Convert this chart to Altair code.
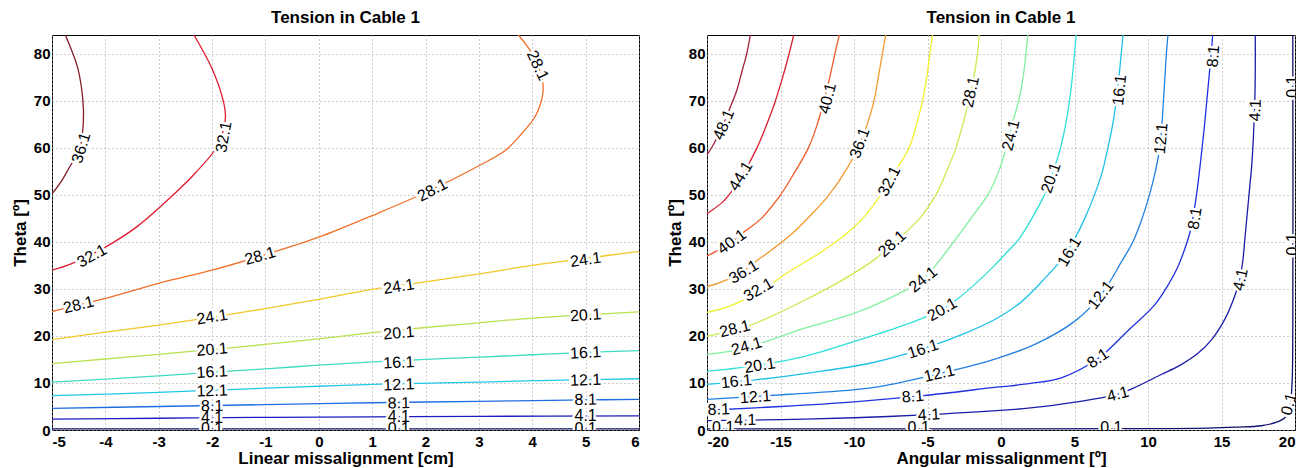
import altair as alt
import pandas as pd

# ---------------- Left panel: linear missalignment [cm] vs theta ----------------
lin_levels = ["0.1", "4.1", "8.1", "12.1", "16.1", "20.1", "24.1", "28.1", "32.1", "36.1"]
lin_c0_1 = [(-5, 0.25), (6, 0.25)]
lin_c4_1 = [(-5, 2.3), (-3, 2.5), (-1, 2.7), (1, 2.8), (3, 2.9), (6, 3.0)]
lin_c8_1 = [(-5, 4.6), (-3, 5.0), (-1, 5.4), (1, 5.8), (3, 6.1), (5, 6.4), (6, 6.5)]
lin_c12_1 = [(-5, 7.3), (-3, 8.0), (-1, 8.9), (0, 9.3), (1, 9.7), (3, 10.2), (5, 10.7), (6, 10.9)]
lin_c16_1 = [(-5, 10.2), (-4, 10.8), (-3, 11.5), (-2, 12.3), (-1, 13.0), (0, 13.8), (1, 14.5),
             (2, 15.0), (3, 15.5), (4, 16.0), (5, 16.5), (6, 16.9)]
lin_c20_1 = [(-5, 14.1), (-4, 15.1), (-3, 16.1), (-2, 17.1), (-1, 18.2), (0, 19.4), (1, 20.7),
             (2, 21.8), (3, 22.8), (4, 23.8), (5, 24.5), (6, 25.1)]
lin_c24_1 = [(-5, 19.2), (-4, 20.8), (-3, 22.3), (-2, 24.0), (-1, 25.8), (0, 27.8), (1, 29.9),
             (2, 31.5), (3, 33.2), (4, 35.0), (5, 36.5), (6, 38.0)]
lin_c28_1 = [(-5, 25.2), (-4, 28.0), (-3, 31.2), (-2, 34.0), (-1, 37.3), (0, 41.0), (1, 45.6),
             (2, 50.5), (3, 56.2), (3.5, 59.5), (3.8, 63.0), (4.07, 67.0), (4.2, 71.8),
             (4.18, 75.0), (4.0, 80.0), (3.74, 84.0)]
lin_c32_1 = [(-5, 34.0), (-4.63, 35.4), (-4.0, 38.9), (-3.4, 43.3), (-2.69, 50.4),
             (-2.31, 54.7), (-1.94, 59.7), (-1.78, 64.0), (-1.75, 67.0), (-1.8, 70.4),
             (-2.0, 76.8), (-2.34, 84.0)]
lin_c36_1 = [(-5, 50.2), (-4.82, 53.0), (-4.65, 56.3), (-4.5, 59.0), (-4.43, 63.0), (-4.41, 68.0),
             (-4.45, 73.0), (-4.53, 77.5), (-4.75, 84.0)]
lin_lines = [lin_c0_1, lin_c4_1, lin_c8_1, lin_c12_1, lin_c16_1, lin_c20_1, lin_c24_1,
             lin_c28_1, lin_c32_1, lin_c36_1]

lin_lab_text = ["36.1", "32.1", "28.1", "28.1", "32.1", "28.1", "28.1",
                "24.1", "24.1", "24.1", "20.1", "20.1", "20.1", "16.1", "16.1", "16.1",
                "12.1", "12.1", "12.1", "8.1", "8.1", "8.1", "4.1", "4.1", "4.1",
                "0.1", "0.1", "0.1"]
lin_lab_x = [-4.45, -1.78, 4.1, 2.13, -4.25, -4.5, -1.1,
             -2.0, 1.5, 5.0, -2.0, 1.5, 5.0, -2.0, 1.5, 5.0,
             -2.0, 1.5, 5.0, -2.0, 1.5, 5.0, -2.0, 1.5, 5.0,
             -2.0, 1.5, 5.0]
lin_lab_y = [60.0, 62.3, 77.5, 51.0, 37.0, 26.6, 37.0,
             24.0, 30.5, 36.2, 17.1, 20.6, 24.4, 12.3, 14.3, 16.4,
             8.3, 9.6, 10.6, 5.1, 5.7, 6.4, 2.6, 2.8, 3.0,
             0.3, 0.3, 0.3]
lin_lab_angle = [287, 280, 65, 332, 331, 346, 344,
                 351, 351, 352, 355, 355, 356, 357, 357, 357,
                 358, 358, 358, 359, 359, 359, 0, 0, 0,
                 0, 0, 0]

# ---------------- Right panel: angular missalignment [deg] vs theta ----------------
ang_levels = ["0.1", "4.1", "8.1", "12.1", "16.1", "20.1", "24.1", "28.1", "32.1", "36.1",
              "40.1", "44.1", "48.1"]
ang_c0_1 = [(-20, 0.25), (0, 0.25), (10, 0.3), (14, 0.4), (16, 0.6), (17.7, 0.9), (18.7, 1.6),
            (19.3, 2.6), (19.65, 5.0), (19.8, 10.0), (19.85, 20.0), (19.85, 84.0)]
ang_c4_1 = [(-20, 2.0), (-15, 2.2), (-10, 2.6), (-5.3, 3.2), (-0.3, 4.1), (2, 4.7), (4.1, 5.5),
            (6, 6.4), (7.9, 7.6), (9, 8.9), (10.9, 11.8), (12.2, 13.8), (13.4, 16.3), (14.4, 19.5),
            (15.3, 24.0), (15.9, 28.5), (16.2, 31.5), (16.45, 36.0), (16.6, 41.0), (16.75, 46.0),
            (16.9, 51.0), (17.05, 56.0), (17.15, 61.0), (17.22, 66.0), (17.28, 72.0),
            (17.3, 78.0), (17.3, 84.0)]
ang_c8_1 = [(-20, 4.2), (-15, 5.0), (-10, 6.0), (-5.3, 7.3), (-0.3, 9.1), (2, 9.9), (4.1, 11.1),
            (6.6, 15.2), (8.6, 21.0), (10.45, 26.6), (11.4, 31.0), (12.0, 34.5), (12.5, 38.5),
            (12.85, 42.0), (13.1, 46.0), (13.3, 50.0), (13.5, 55.0), (13.68, 60.0), (13.85, 65.0),
            (14.0, 70.0), (14.15, 75.0), (14.3, 80.0), (14.4, 84.0)]
ang_c12_1 = [(-20, 6.5), (-14.4, 7.6), (-8.75, 9.0), (-4.2, 12.0), (-0.3, 15.2), (2.3, 18.2),
             (5.0, 23.1), (6.8, 28.7), (8.2, 35.8), (9.0, 40.2), (9.6, 45.0), (10.1, 50.0),
             (10.5, 55.0), (10.8, 60.0), (10.95, 65.0), (11.05, 70.0), (11.15, 75.0),
             (11.25, 80.0), (11.36, 84.0)]
ang_c16_1 = [(-20, 9.7), (-16, 10.9), (-12.2, 12.5), (-8.75, 14.3), (-5.3, 17.3), (-2.5, 20.5),
             (-0.3, 23.7), (1.4, 27.3), (3.0, 32.3), (4.3, 37.0), (5.0, 40.6), (5.7, 45.0),
             (6.36, 50.0), (6.9, 55.0), (7.27, 60.0), (7.6, 65.0), (7.84, 70.0), (8.02, 75.0),
             (8.18, 80.0), (8.3, 84.0)]
ang_c20_1 = [(-20, 12.5), (-16.4, 13.8), (-13.3, 15.7), (-9.9, 18.9), (-6.5, 22.4), (-4.0, 25.6),
             (-2.9, 28.0), (-1.6, 31.5), (-0.5, 34.8), (0.4, 37.8), (1.2, 40.5), (2.1, 45.0),
             (2.95, 50.0), (3.55, 55.0), (4.05, 60.0), (4.4, 65.0), (4.66, 70.0), (4.85, 75.0),
             (5.0, 80.0), (5.11, 84.0)]
ang_c24_1 = [(-20, 16.1), (-18, 17.0), (-16, 18.8), (-13.3, 21.7), (-9.9, 24.9), (-7.6, 28.0),
             (-5.3, 32.0), (-4.2, 36.0), (-3.1, 40.5), (-2.0, 45.2), (-0.9, 50.0), (-0.15, 55.0),
             (0.34, 60.0), (0.75, 65.0), (1.2, 70.0), (1.5, 75.0), (1.7, 80.0), (1.82, 84.0)]
ang_c28_1 = [(-20, 19.9), (-17.5, 21.8), (-15.6, 24.2), (-13.3, 27.7), (-11.0, 31.5), (-8.5, 36.5),
             (-7.4, 39.6), (-6.5, 42.0), (-5.4, 45.5), (-4.43, 50.0), (-3.7, 55.0), (-3.07, 60.0),
             (-2.6, 65.0), (-2.2, 70.0), (-1.85, 75.0), (-1.6, 80.0), (-1.48, 84.0)]
ang_c32_1 = [(-20, 25.0), (-18.5, 26.3), (-17.3, 28.0), (-16.0, 30.3), (-14.4, 33.7), (-12.2, 37.9),
             (-10.6, 41.5), (-9.4, 45.0), (-8.4, 49.0), (-7.6, 52.9), (-7.0, 56.0), (-6.25, 60.0),
             (-5.75, 65.0), (-5.34, 70.0), (-5.05, 75.0), (-4.84, 80.0), (-4.66, 84.0)]
ang_c36_1 = [(-20, 30.5), (-19, 31.5), (-17.8, 33.2), (-16.7, 35.8), (-15.6, 38.3), (-14.3, 41.5),
             (-13.0, 45.5), (-11.7, 50.0), (-10.4, 56.0), (-9.6, 61.0), (-9.1, 65.0), (-8.64, 70.0),
             (-8.35, 75.0), (-8.07, 80.0), (-7.84, 84.0)]
ang_c40_1 = [(-20, 37.0), (-19.2, 38.3), (-18.3, 40.0), (-17.4, 42.3), (-16.3, 45.0), (-15.0, 50.0),
             (-14.0, 55.0), (-13.1, 60.0), (-12.5, 65.0), (-12.0, 70.5), (-11.65, 75.0),
             (-11.3, 80.0), (-11.0, 84.0)]
ang_c44_1 = [(-20, 46.0), (-19.0, 48.3), (-18.5, 50.0), (-17.7, 53.6), (-16.6, 60.0),
             (-16.0, 64.5), (-15.4, 69.5), (-14.9, 74.5), (-14.5, 79.0), (-14.1, 84.0)]
ang_c48_1 = [(-20, 58.5), (-19.6, 60.5), (-19.1, 63.5), (-18.5, 68.0), (-18.0, 72.0),
             (-17.6, 76.5), (-17.3, 80.0), (-17.05, 84.0)]
ang_lines = [ang_c0_1, ang_c4_1, ang_c8_1, ang_c12_1, ang_c16_1, ang_c20_1, ang_c24_1,
             ang_c28_1, ang_c32_1, ang_c36_1, ang_c40_1, ang_c44_1, ang_c48_1]

ang_lab_text = ["48.1", "44.1", "40.1", "40.1", "36.1", "36.1", "32.1", "32.1",
                "28.1", "28.1", "28.1", "24.1", "24.1", "24.1", "20.1", "20.1", "20.1",
                "16.1", "16.1", "16.1", "16.1", "12.1", "12.1", "12.1", "12.1",
                "8.1", "8.1", "8.1", "8.1", "8.1", "4.1", "4.1", "4.1", "4.1", "4.1",
                "0.1", "0.1", "0.1", "0.1", "0.1", "0.1"]
ang_lab_x = [-18.86, -17.7, -11.8, -18.3, -9.6, -17.5, -7.6, -16.5,
             -2.05, -7.4, -18.1, 0.68, -5.3, -17.3, 3.4, -4.0, -16.4,
             8.07, 4.66, -5.3, -18.0, 10.9, 6.8, -4.2, -16.7,
             14.45, 13.2, 6.6, -6.0, -19.2, 17.3, 16.3, 7.95, -4.9, -17.4,
             19.85, 19.85, 19.6, 7.5, -5.6, -18.9]
ang_lab_y = [64.9, 54.0, 70.5, 40.0, 61.0, 33.6, 52.9, 29.8,
             71.9, 39.6, 21.5, 62.7, 32.0, 17.8, 53.6, 25.6, 13.7,
             72.3, 37.9, 17.2, 10.3, 62.0, 28.7, 12.0, 7.0,
             79.5, 45.0, 15.2, 7.1, 4.35, 68.0, 32.0, 7.6, 3.2, 2.1,
             73.0, 39.5, 5.5, 0.5, 0.5, 0.5]
ang_lab_angle = [293, 301, 284, 324, 290, 329, 297, 330,
                 282, 318, 346, 284, 321, 344, 289, 330, 351,
                 276, 300, 342, 354, 275, 308, 347, 356,
                 275, 279, 325, 355, 358, 272, 282, 345, 357, 359,
                 270, 270, 285, 0, 0, 0]

# jet-like colours (slightly muted, as printed) for each contour level
lin_colors = ["#10106e", "#1c1cc0", "#1f6ee0", "#20c8e8", "#40dcc0", "#b8e050",
              "#f0c828", "#f07028", "#e01c30", "#801c28"]
ang_colors = ["#10106e", "#1c1ca8", "#2030e0", "#2080e0", "#20c0e8", "#30e0d8", "#80f0a0",
              "#c8ec50", "#f0f028", "#f09a30", "#f05a28", "#d81c30", "#a02038"]

FONT = "Liberation Sans"


def lines_frame(levels, lines):
    rows = []
    for lvl, pts in zip(levels, lines):
        for i, (x, y) in enumerate(pts):
            rows.append({"level": lvl, "i": i, "x": x, "y": y})
    return pd.DataFrame(rows)


def labels_frame(xs, ys, texts, angles):
    return pd.DataFrame({"x": xs, "y": ys, "t": texts, "a": angles})


def panel(levels, lines, colors, labx, laby, labt, laba, xdom, xticks, xtitle, w):
    df_l = lines_frame(levels, lines)
    df_t = labels_frame(labx, laby, labt, laba)
    xenc = alt.X("x:Q", scale=alt.Scale(domain=xdom, nice=False, zero=False),
                 axis=alt.Axis(values=xticks, title=xtitle, labelExpr="'' + datum.value"))
    yenc = alt.Y("y:Q", scale=alt.Scale(domain=[0, 84], nice=False, zero=False),
                 axis=alt.Axis(values=list(range(0, 81, 10)), title="Theta [º]",
                               labelExpr="'' + datum.value"))
    ln = alt.Chart(df_l).mark_line(strokeWidth=1.3, clip=True, interpolate="catmull-rom").encode(
        x=xenc, y=yenc,
        color=alt.Color("level:N", scale=alt.Scale(domain=levels, range=colors), legend=None),
        detail="level:N",
        order="i:Q",
    )
    halo = alt.Chart(df_t).mark_text(
        font=FONT, fontSize=16, color="white", stroke="white", strokeWidth=5,
        align="center", baseline="middle", clip=True
    ).encode(x=xenc, y=yenc, text="t:N", angle=alt.Angle("a:Q", scale=None))
    txt = alt.Chart(df_t).mark_text(
        font=FONT, fontSize=16, color="black",
        align="center", baseline="middle", clip=True
    ).encode(x=xenc, y=yenc, text="t:N", angle=alt.Angle("a:Q", scale=None))
    return alt.layer(ln, halo, txt).properties(
        width=w, height=395,
        title=alt.TitleParams("Tension in Cable 1", font=FONT, fontSize=17, fontWeight="bold",
                              color="black", anchor="middle", offset=8),
    )


left = panel(lin_levels, lin_lines, lin_colors, lin_lab_x, lin_lab_y, lin_lab_text, lin_lab_angle,
             [-5, 6], list(range(-5, 7)), "Linear missalignment [cm]", 587)
right = panel(ang_levels, ang_lines, ang_colors, ang_lab_x, ang_lab_y, ang_lab_text, ang_lab_angle,
              [-20, 20], list(range(-20, 21, 5)), "Angular missalignment [º]", 588)

chart = alt.hconcat(left, right, spacing=25).resolve_scale(
    color="independent"
).properties(
    padding={"left": 2, "top": 0, "right": 0, "bottom": 0}
).configure_view(
    stroke="black", strokeWidth=1
).configure_axis(
    grid=True, gridColor="#9a9a9a", gridDash=[1, 3], gridWidth=1,
    ticks=False, domain=False,
    labelFont=FONT, labelFontSize=15, labelFontWeight="bold", labelColor="black",
    titleFont=FONT, titleFontSize=17, titleFontWeight="bold", titleColor="black",
).configure_axisY(
    minExtent=20, maxExtent=20, titlePadding=3, labelPadding=2
).configure_axisX(
    titlePadding=1, labelPadding=4
)

chart.save("out.html", embed_options={"renderer": "svg", "actions": False})
